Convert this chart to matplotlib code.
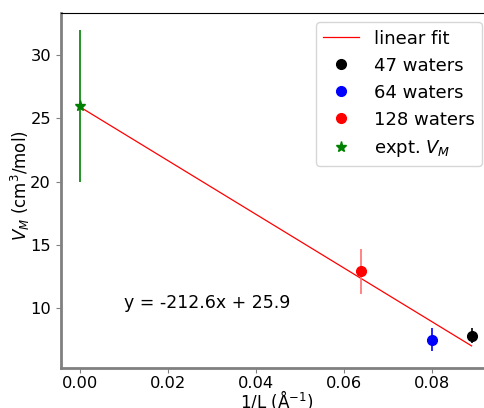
import matplotlib
matplotlib.use("Agg")
import matplotlib.pyplot as plt
import numpy as np

# box sizes -> 1/L (1/Angstrom)
inv_L = [0.0889, 0.0800, 0.0639]
vm = [7.8, 7.5, 12.9]
vm_err = [0.6, 0.9, 1.8]
labels = ["47 waters", "64 waters", "128 waters"]
colors = ["black", "blue", "red"]
err_colors = ["black", "blue", "#ff7070"]

expt_x = 0.0
expt_vm = 26.0
expt_err = 6.0

slope = -212.6
intercept = 25.9

plt.rcParams.update({'font.size': 12})
fig = plt.figure(figsize=(4.84, 4.08), dpi=100)
ax = fig.add_axes([0.1254, 0.098, 0.889, 0.869])

fit_x = np.array([0.0, inv_L[0]])
ax.plot(fit_x, slope * fit_x + intercept, color="red", lw=0.9, label="linear fit")

for x, y, e, lab, c, ec in zip(inv_L, vm, vm_err, labels, colors, err_colors):
    ax.errorbar(x, y, yerr=e, fmt="none", ecolor=ec, elinewidth=1.2)
    ax.plot(x, y, "o", color=c, ms=7, label=lab)

ax.errorbar(expt_x, expt_vm, yerr=expt_err, fmt="none", ecolor="green", elinewidth=1.2)
ax.plot(expt_x, expt_vm, "*", color="green", ms=8, label="expt. $V_M$")

ax.text(0.01, 10, f"y = {slope}x + {intercept}", fontsize=12.5)

ax.set_xlim(-0.0044, 0.0933)
ax.set_ylim(5.25, 33.3)
ax.set_xticks([0.0, 0.02, 0.04, 0.06, 0.08])
ax.set_yticks([10, 15, 20, 25, 30])
ax.tick_params(labelsize=11.7, color="gray")
ax.tick_params(axis="x", pad=2)
ax.set_xlabel("1/L (Å$^{-1}$)", fontsize=12)
ax.set_ylabel("$V_M$ (cm$^3$/mol)", fontsize=12)
ax.xaxis.set_label_coords(0.502, -0.057)
ax.yaxis.set_label_coords(-0.067, 0.514)

for side in ["left", "bottom"]:
    ax.spines[side].set_color("gray")
    ax.spines[side].set_linewidth(2)

ax.legend(loc="upper right", fontsize=13)

fig.savefig("out.png", dpi=100)
